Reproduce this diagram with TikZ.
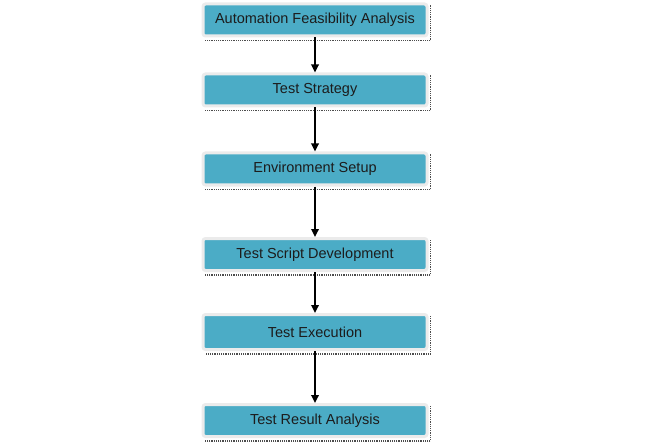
\documentclass[tikz,border=0pt]{standalone}
\usepackage{xcolor}
\usepackage{fontspec}
\setmainfont{Liberation Sans}
\usetikzlibrary{arrows.meta}

\definecolor{stageteal}{HTML}{4BACC6}
\definecolor{stagerim}{HTML}{EBEBEB}
\definecolor{stagetext}{HTML}{1C1C1C}

\tikzset{
  stage/.style = {rectangle, rounded corners=2.5pt, fill=stageteal, draw=stagerim,
                  line width=3pt, minimum width=224pt, minimum height=32pt,
                  inner sep=0pt, text=stagetext, font=\fontsize{14.5pt}{16pt}\selectfont},
  shade/.style = {densely dotted, line width=1.2pt, black!70},
  flow/.style  = {line width=1.7pt, -{Triangle[length=8pt,width=7.5pt]}}
}

\begin{document}
\begin{tikzpicture}[x=1pt, y=1pt]
                        \useasboundingbox (0,0) rectangle (655,445);
                        \node (A) [stage] at (315,425) {Automation Feasibility Analysis};
                        \node (B) [stage, below of = A, node distance = 70pt] {Test Strategy};
                        \node (C) [stage, below of = B, node distance = 79pt] {Environment Setup};
                        \node (D) [stage, below of = C, node distance = 85.5pt] {Test Script Development};
                        \node (E) [stage, below of = D, node distance = 77.5pt, minimum height=35pt] {Test Execution};
                        \node (F) [stage, below of = E, node distance = 88.5pt] {Test Result Analysis};

                        % dotted shadows on the right and bottom
                        \foreach \n in {A, B, C, D, E, F}
                          \draw[shade] ([xshift=2pt, yshift=-3pt]\n.north east) |- ([xshift=3pt, yshift=-3pt]\n.south west);

                        \draw[flow] (A) -- (B);
                        \draw[flow] (B) -- (C);
                        \draw[flow] (C) -- (D);
                        \draw[flow] (D) -- (E);
                        \draw[flow] (E) -- (F);
                    \end{tikzpicture}
\end{document}
